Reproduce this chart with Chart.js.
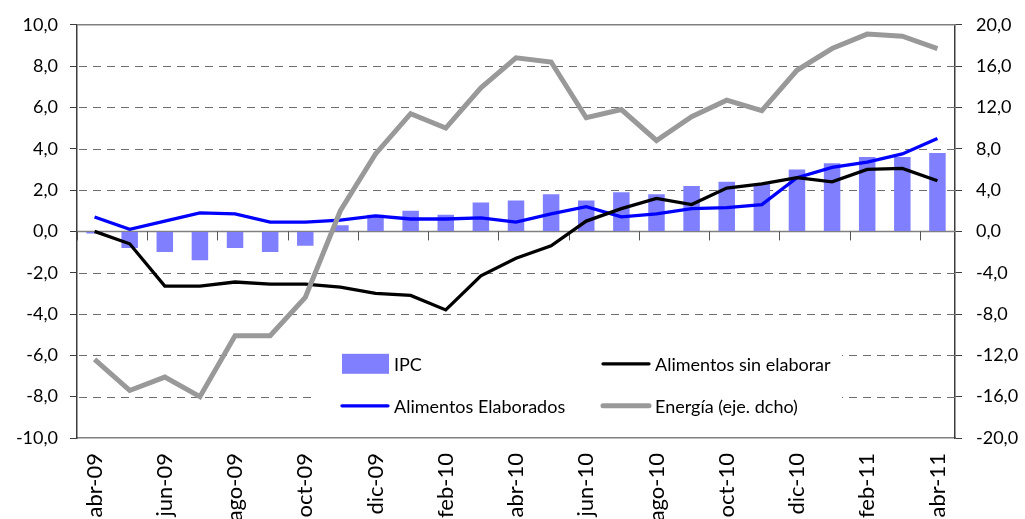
<!DOCTYPE html>
<html lang="es">
<head>
<meta charset="utf-8">
<title>IPC, alimentos y energía</title>
<script src="https://cdn.jsdelivr.net/npm/chart.js@4.4.1/dist/chart.umd.min.js"></script>
<style>
  html, body { margin: 0; padding: 0; background: #fff; overflow: hidden; }
  #wrap { position: relative; width: 1025px; height: 519px; }
</style>
</head>
<body>
<div id="wrap"><canvas id="chart"></canvas></div>
<script>
// ---------- data (tasas de variación, %) ----------
const MONTHS = [
  "abr-09", "may-09", "jun-09", "jul-09", "ago-09", "sep-09", "oct-09", "nov-09", "dic-09",
  "ene-10", "feb-10", "mar-10", "abr-10", "may-10", "jun-10", "jul-10", "ago-10", "sep-10",
  "oct-10", "nov-10", "dic-10", "ene-11", "feb-11", "mar-11", "abr-11",
];

const IPC = [
  -0.1, -0.8, -1.0, -1.4, -0.8, -1.0, -0.7, 0.3, 0.8,
  1.0, 0.8, 1.4, 1.5, 1.8, 1.5, 1.9, 1.8, 2.2,
  2.4, 2.3, 3.0, 3.3, 3.6, 3.6, 3.8,
];

const SIN_ELABORAR = [
  0.0, -0.6, -2.65, -2.65, -2.45, -2.55, -2.55, -2.7, -3.0,
  -3.1, -3.8, -2.15, -1.3, -0.7, 0.5, 1.1, 1.6, 1.3,
  2.1, 2.3, 2.6, 2.4, 3.0, 3.05, 2.45,
];

const ELABORADOS = [
  0.7, 0.1, 0.5, 0.9, 0.85, 0.45, 0.45, 0.55, 0.75,
  0.6, 0.6, 0.65, 0.45, 0.85, 1.2, 0.7, 0.85, 1.1,
  1.15, 1.3, 2.6, 3.1, 3.35, 3.75, 4.5,
];

// right axis
const ENERGIA = [
  -12.4, -15.4, -14.1, -16.0, -10.1, -10.1, -6.4, 2.0, 7.5,
  11.4, 10.0, 13.9, 16.8, 16.4, 11.0, 11.8, 8.8, 11.1,
  12.7, 11.7, 15.6, 17.7, 19.1, 18.9, 17.7,
];

// ---------- style ----------
const GRID = '#6e6e6e';
const AXIS = '#3c3c3c';
const FONT = 'Lato, "Open Sans", sans-serif';

Chart.defaults.font.family = FONT;
Chart.defaults.font.size = 18;
Chart.defaults.color = '#000';

const fmt = (v) => Number(v).toFixed(1).replace('.', ',');

// dashed grid, zero line with the category ticks, top frame line
const frameLines = {
  id: 'frameLines',
  beforeDatasetsDraw(chart) {
    const { ctx, chartArea: a, scales: { x, y } } = chart;
    ctx.save();

    // dashed horizontal grid from the left axis ticks
    ctx.strokeStyle = GRID;
    ctx.lineWidth = 1.2;
    ctx.setLineDash([8, 6]);
    y.ticks.forEach((t) => {
      if (t.value === 0 || t.value === y.max || t.value === y.min) return;
      const py = Math.round(y.getPixelForValue(t.value)) + 0.5;
      ctx.beginPath();
      ctx.moveTo(a.left + 2, py);
      ctx.lineTo(a.right, py);
      ctx.stroke();
    });
    ctx.setLineDash([]);

    const y0 = y.getPixelForValue(0);
    const step = x.getPixelForValue(1) - x.getPixelForValue(0);
    ctx.strokeStyle = '#808080';
    ctx.lineWidth = 1.5;
    ctx.beginPath();
    ctx.moveTo(a.left, y0);
    ctx.lineTo(a.right, y0);
    ctx.moveTo(a.left, a.top);
    ctx.lineTo(a.right, a.top);
    ctx.stroke();

    ctx.strokeStyle = '#555';
    ctx.lineWidth = 1;
    ctx.beginPath();
    for (let i = 0; i < MONTHS.length; i += 2) {
      const bx = Math.round(x.getPixelForValue(i) - step / 2) + 0.5;
      ctx.moveTo(bx, y0);
      ctx.lineTo(bx, y0 + 9);
    }
    ctx.stroke();
    ctx.restore();
  }
};

// legend drawn inside the plot, 2 x 2
const legendBox = {
  id: 'legendBox',
  afterDraw(chart) {
    const { ctx, chartArea: a } = chart;
    const ds = chart.data.datasets;
    const bx = a.left + 238, by = a.top + 316;
    ctx.save();
    ctx.fillStyle = '#fff';
    ctx.fillRect(bx, by, 527, 80);

    const cols = [bx + 27, bx + 288];
    const rows = [by + 23, by + 65];
    ctx.font = '18px ' + FONT;
    ctx.textBaseline = 'middle';
    ctx.textAlign = 'left';
    ds.forEach((d, i) => {
      const cx = cols[i % 2], cy = rows[Math.floor(i / 2)];
      if (d.type === 'bar') {
        ctx.fillStyle = d.backgroundColor;
        ctx.fillRect(cx, cy - 10, 47, 20);
      } else {
        ctx.strokeStyle = d.borderColor;
        ctx.lineWidth = d.borderWidth;
        ctx.lineCap = 'round';
        ctx.beginPath();
        ctx.moveTo(cx, cy);
        ctx.lineTo(cx + 46, cy);
        ctx.stroke();
      }
      ctx.fillStyle = '#000';
      ctx.fillText(d.label, cx + 52, cy + 1);
    });
    ctx.restore();
  }
};

const ctx = document.getElementById('chart').getContext('2d');
new Chart(ctx, {
  type: 'bar',
  data: {
    labels: MONTHS,
    datasets: [
      {
        type: 'bar', label: 'IPC', data: IPC, yAxisID: 'y',
        backgroundColor: '#8080ff', borderWidth: 0,
        barPercentage: 0.47, categoryPercentage: 1.0, order: 3,
      },
      {
        type: 'line', label: 'Alimentos sin elaborar', data: SIN_ELABORAR, yAxisID: 'y',
        borderColor: '#000000', borderWidth: 3.3, pointRadius: 0, tension: 0, order: 1,
      },
      {
        type: 'line', label: 'Alimentos Elaborados', data: ELABORADOS, yAxisID: 'y',
        borderColor: '#0000ff', borderWidth: 3.3, pointRadius: 0, tension: 0, order: 2,
      },
      {
        type: 'line', label: 'Energía (eje. dcho)', data: ENERGIA, yAxisID: 'y1',
        borderColor: '#999999', borderWidth: 5, pointRadius: 0, tension: 0, order: 0,
      },
    ]
  },
  options: {
    responsive: true,
    maintainAspectRatio: false,
    animation: false,
    layout: { padding: { top: 24, left: 0, right: 0, bottom: 0 } },
    plugins: {
      legend: { display: false },
      tooltip: { enabled: false },
    },
    scales: {
      x: {
        offset: true,
        grid: { display: true, drawOnChartArea: false, drawTicks: false },
        border: { display: true, color: '#808080', width: 1.5 },
        ticks: {
          autoSkip: false, minRotation: 90, maxRotation: 90, padding: 15,
          font: { size: 22 },
          callback: (v, i) => (i % 2 === 0 ? MONTHS[i] : ''),
        },
        afterFit: (s) => { s.height = 81; },
      },
      y: {
        position: 'left',
        min: -10, max: 10,
        ticks: { stepSize: 2, padding: 12, callback: fmt },
        grid: { drawOnChartArea: false, tickColor: AXIS, tickLength: 7 },
        border: { display: true, color: AXIS, width: 1.5 },
        afterFit: (s) => { s.width = 77; },
      },
      y1: {
        position: 'right',
        min: -20, max: 20,
        ticks: { stepSize: 4, padding: 14, callback: fmt },
        grid: { drawOnChartArea: false, tickColor: AXIS, tickLength: 7 },
        border: { display: true, color: AXIS, width: 1.5 },
        afterFit: (s) => { s.width = 70; },
      },
    }
  },
  plugins: [frameLines, legendBox],
});
</script>
</body>
</html>
